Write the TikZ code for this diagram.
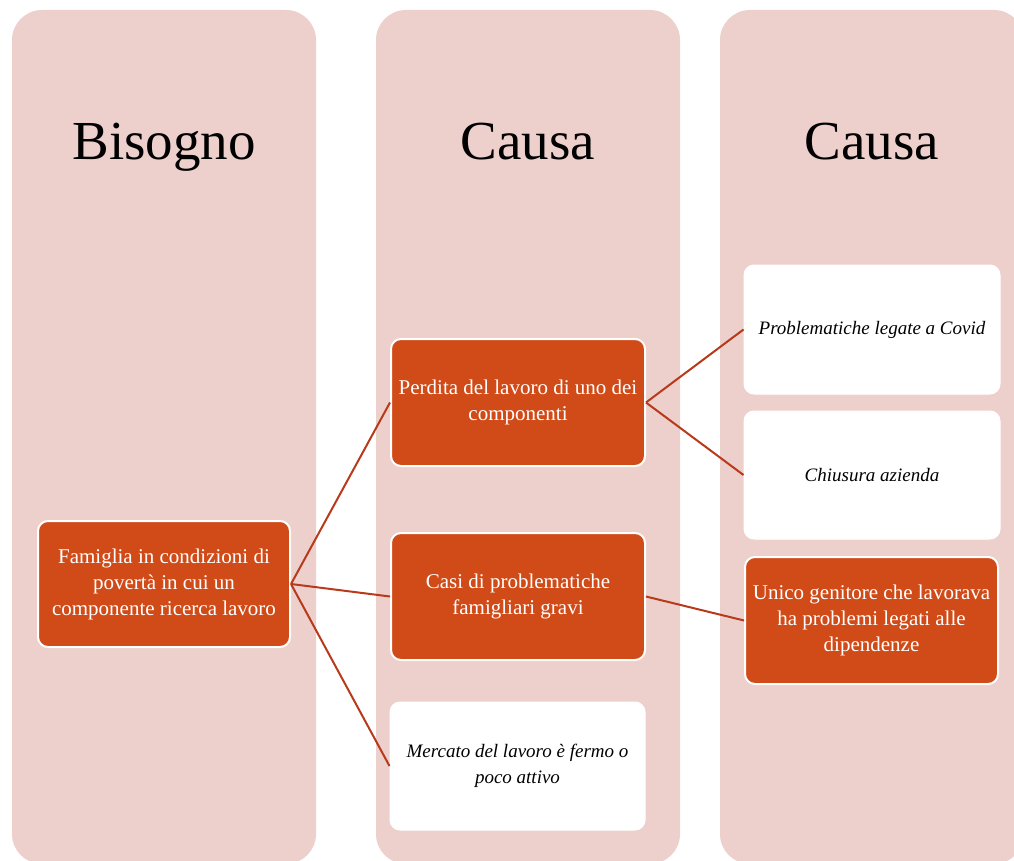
\documentclass[tikz,border=0pt]{standalone}
\usepackage{fontspec}
\setmainfont{Liberation Serif}
\definecolor{colbg}{HTML}{EDCFCC}
\definecolor{boxor}{HTML}{D14B18}
\definecolor{linkc}{HTML}{B73A1B}
\tikzset{
  column/.style={fill=colbg, draw=none, rounded corners=30pt},
  title/.style={anchor=base, font=\fontsize{55}{60}\selectfont, text=black},
  orangebox/.style={draw=white, line width=2pt, fill=boxor, rounded corners=10pt, text=white,
     align=center, inner sep=2pt, font=\fontsize{21}{26}\selectfont},
  whitebox/.style={draw=white, line width=1pt, fill=white, rounded corners=10pt, text=black,
     align=center, inner sep=2pt, font=\fontsize{19}{26}\selectfont\itshape},
  link/.style={draw=linkc, line width=2pt}
}
\begin{document}
\begin{tikzpicture}[x=1pt,y=-1pt]
\useasboundingbox (0,0) rectangle (1014,861);
% columns
\path[column] (12,10) rectangle (316,864);
\path[column] (376,10) rectangle (680,864);
\path[column] (720,10) rectangle (1024,864);
% titles
\node[title] (t1) at (164,160) {Bisogno};
\node[title] (t2) at (528,160) {Causa};
\node[title] (t3) at (872,160) {Causa};
% boxes
\node[orangebox, minimum width=252pt, minimum height=126pt] (fam) at (164,584)
  {Famiglia in condizioni di\\povertà in cui un\\componente ricerca lavoro};
\node[orangebox, minimum width=254pt, minimum height=127pt] (perd) at (518,402.5)
  {Perdita del lavoro di uno dei\\componenti};
\node[orangebox, minimum width=254pt, minimum height=127pt] (casi) at (518,596.5)
  {Casi di problematiche\\famigliari gravi};
\node[whitebox, minimum width=255pt, minimum height=128pt] (merc) at (517.5,766)
  {Mercato del lavoro è fermo o\\poco attivo};
\node[whitebox, minimum width=256pt, minimum height=129pt] (covid) at (872,329.5)
  {Problematiche legate a Covid};
\node[whitebox, minimum width=256pt, minimum height=128pt] (chius) at (872,475)
  {Chiusura azienda};
\node[orangebox, minimum width=253pt, minimum height=127pt] (unico) at (871.5,620.5)
  {Unico genitore che lavorava\\ha problemi legati alle\\dipendenze};
% links
\draw[link] (fam.east) -- (perd.west);
\draw[link] (fam.east) -- (casi.west);
\draw[link] (fam.east) -- (merc.west);
\draw[link] (perd.east) -- (covid.west);
\draw[link] (perd.east) -- (chius.west);
\draw[link] (casi.east) -- (unico.west);
\end{tikzpicture}
\end{document}
